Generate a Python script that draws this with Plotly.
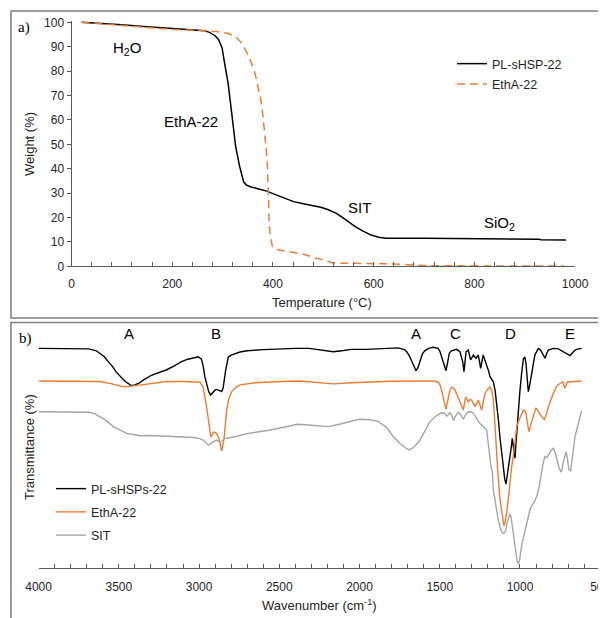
import plotly.graph_objects as go

W, H = 606, 618
PAGE_OFFSET = 8  # default page margin that the browser puts around the figure


def px(x):
    return (x - PAGE_OFFSET) / W


def py(y):
    return 1 - (y - PAGE_OFFSET) / H


# ---------------- TGA data (panel a) ----------------
tga_temp_pl = [20, 50, 100, 150, 200, 250, 265, 275, 285, 292, 299, 305, 311, 318, 326, 334, 338,
               342, 347, 355, 370, 388, 400, 420, 441, 470, 495, 510, 526, 545, 564, 580, 595, 610,
               625, 700, 808, 812, 928, 932, 982]
tga_wt_pl = [100, 99.7, 99, 98.2, 97.5, 97, 96.5, 95.8, 94.5, 93, 89.5, 82, 75, 63, 49, 40.8, 37,
             34.5, 33.4, 32.6, 31.8, 30.8, 29.8, 28.2, 26.5, 25.2, 24.2, 23.2, 21.7, 19, 16.2, 14.3,
             12.8, 11.9, 11.5, 11.5, 11.4, 11.2, 11.1, 10.9, 10.8]

tga_temp_eth = [20, 100, 150, 200, 257, 288, 310, 326, 338, 349, 357, 364.5, 370, 376, 380, 384,
                387, 389, 390.5, 391.4, 392, 394, 399, 410, 425, 441, 460, 472, 490, 505, 518, 535,
                549, 600, 625, 660, 702, 750, 850, 978]
tga_wt_eth = [100, 98.8, 98, 97.1, 96.6, 96.2, 95.5, 94.1, 91.5, 87.3, 83.5, 79, 74, 68.2, 62,
              54.5, 47, 40.8, 34, 27, 20, 13.6, 8, 6.8, 6.2, 5.6, 5.0, 4.2, 3.2, 2.2, 1.5, 1.3, 1.3,
              1.1, 1.0, 0.8, 0.3, 0.2, 0.15, 0.1]

tga_xticks = list(range(0, 1001, 40))
tga_xlabels = [str(v) if v % 200 == 0 else "" for v in tga_xticks]
tga_yticks = list(range(0, 101, 10))

# ---------------- FTIR data (panel b) ----------------
ftir_wn_pl = [4000, 3800, 3687, 3640, 3615, 3590, 3566, 3540, 3518, 3494, 3470, 3445, 3422, 3400,
              3374, 3350, 3326, 3300, 3277, 3240, 3205, 3160, 3109, 3070, 3037, 3005, 2985, 2974,
              2964, 2952, 2940, 2928, 2915, 2900, 2890, 2875, 2859, 2850, 2845, 2835, 2818, 2796,
              2745, 2700, 2600, 2500, 2400, 2314, 2250, 2200, 2163, 2100, 2050, 1955, 1850, 1760,
              1720, 1706, 1690, 1675, 1660, 1648, 1636, 1623, 1608, 1592, 1565, 1540, 1510, 1498,
              1485, 1478, 1461, 1450, 1441, 1428, 1416, 1395, 1374, 1363, 1357, 1349, 1342, 1336,
              1322, 1308, 1300, 1291, 1274, 1260, 1252, 1245, 1237, 1229, 1218, 1208, 1195, 1187,
              1175, 1166, 1155, 1145, 1135, 1125, 1115, 1105, 1095, 1087, 1080, 1072, 1062, 1055,
              1048, 1044, 1040, 1034, 1031, 1026, 1020, 1010, 1000, 990, 979, 970, 962, 955, 948,
              940, 927, 915, 907, 886, 875, 865, 855, 844, 833, 823, 792, 760, 730, 710, 688, 675,
              657, 640, 616]
ftir_t_pl = [91.5, 91.5, 91.3, 90.5, 89.4, 88, 86, 84, 81.8, 80, 78.3, 77, 76, 76.3, 77, 78.2, 79.3,
             80.2, 80.8, 81.6, 82.5, 84, 86, 87, 87.6, 88, 87, 84, 79.7, 76, 73.5, 72.1, 73.2, 74.2,
             74.4, 74, 73.5, 75, 78, 82, 87.9, 88.8, 90, 90.5, 91, 91.3, 91.5, 91.5, 91, 90.3, 90.1,
             90.6, 91.1, 91.1, 91.5, 91.7, 91, 90.1, 88.5, 86, 83.5, 82.2, 83.5, 86.7, 89.2, 90.6,
             91.6, 92, 91.5, 90.1, 87.5, 85.3, 82.2, 86, 89.4, 90.5, 90.8, 91.1, 90.1, 88, 86, 81.8,
             86, 90.1, 90.8, 86.7, 87.5, 88.75, 87.4, 88.75, 86, 83.2, 86, 88.75, 86.5, 84.7, 82,
             79.7, 78.5, 77.6, 74, 68.6, 62, 54.7, 48, 42, 37, 35, 38, 42, 45, 50, 54, 52, 49, 46,
             45.7, 51, 57, 66, 74, 81, 87, 88, 85, 79, 73.5, 76, 81.1, 86, 88.75, 91.5, 91, 90.1,
             88.5, 87.4, 89.5, 90.8, 91.5, 91.3, 90.1, 89.5, 88.5, 89.5, 90.8, 91.2, 91.5]

ftir_wn_eth = [4000, 3800, 3650, 3617, 3550, 3500, 3472, 3420, 3368, 3300, 3202, 3100, 2994, 2975,
               2963, 2950, 2942, 2935, 2927, 2918, 2911, 2900, 2890, 2880, 2874, 2866, 2859, 2852,
               2845, 2836, 2828, 2815, 2797, 2770, 2745, 2650, 2578, 2450, 2371, 2250, 2163, 2050,
               1955, 1800, 1700, 1540, 1510, 1498, 1488, 1478, 1470, 1461, 1454, 1447, 1436, 1426,
               1415, 1405, 1390, 1374, 1363, 1353, 1345, 1338, 1330, 1322, 1311, 1301, 1290, 1280,
               1270, 1260, 1250, 1239, 1230, 1218, 1200, 1187, 1176, 1166, 1160, 1156, 1150, 1145,
               1135, 1125, 1114, 1106, 1100, 1093, 1083, 1072, 1062, 1052, 1042, 1030, 1020, 1010,
               1000, 990, 979, 970, 962, 953, 944, 935, 923, 910, 900, 890, 879, 865, 848, 836, 823,
               808, 792, 770, 750, 734, 728, 722, 714, 705, 680, 616]
ftir_t_eth = [77.9, 77.9, 77.8, 77.7, 76.8, 76, 75.5, 75.8, 76.2, 77, 77.7, 77.7, 77.4, 75.5, 71.6,
              66, 61.9, 58, 54.5, 55.5, 56.6, 56.5, 56, 54.5, 53.5, 51, 48.7, 51, 53.5, 60, 65.9,
              70.5, 73.5, 75.3, 76.3, 77.2, 77.5, 77.8, 77.9, 77.3, 76.7, 77.2, 77.5, 77.8, 77.9,
              77.9, 77.5, 76.25, 74, 71.4, 68.5, 66.1, 68.5, 71.4, 74.3, 75.3, 75, 74.2, 72, 69.3,
              67.5, 65.8, 69, 71.25, 70.3, 69.3, 70.2, 70, 68.5, 67.2, 68.5, 70, 68, 65.8, 69, 72.8,
              74.5, 75.4, 74, 70, 64, 58.9, 52, 45, 36.7, 29, 22.8, 19, 17.5, 19, 22.8, 29, 36.7,
              42, 46.4, 53, 58.9, 61, 62.4, 64, 65.8, 65.5, 64.4, 60, 56.8, 59, 62.4, 64.8, 66.5,
              65.8, 64.4, 63, 62, 64, 67.2, 70, 72.8, 76, 77, 77.6, 76.5, 74.9, 76, 77.4, 77.6,
              77.9]

ftir_wn_sit = [4000, 3800, 3687, 3650, 3615, 3580, 3534, 3490, 3451, 3400, 3368, 3300, 3200, 3100,
               3036, 3000, 2974, 2955, 2942, 2930, 2911, 2890, 2870, 2855, 2838, 2800, 2700, 2555,
               2450, 2386, 2300, 2250, 2194, 2120, 2050, 2001, 1940, 1880, 1873, 1830, 1789, 1750,
               1712, 1690, 1670, 1645, 1623, 1590, 1561, 1520, 1488, 1470, 1457, 1446, 1436, 1425,
               1415, 1400, 1384, 1370, 1353, 1338, 1322, 1305, 1291, 1275, 1260, 1245, 1229, 1215,
               1207, 1198, 1192, 1187, 1180, 1172, 1166, 1150, 1135, 1120, 1110, 1100, 1090, 1080,
               1070, 1062, 1055, 1045, 1035, 1025, 1017, 1010, 1003, 995, 985, 970, 958, 945, 935,
               927, 915, 896, 880, 865, 855, 844, 833, 823, 808, 792, 780, 765, 755, 745, 740, 730,
               720, 713, 705, 695, 684, 675, 668, 657, 645, 630, 616]
ftir_t_sit = [65.1, 65.1, 64.9, 64.3, 63, 61.5, 58.9, 57.3, 56.1, 55.5, 55.1, 55.2, 55, 54.7, 54.4,
              54, 53.3, 52, 51.25, 51.6, 52.6, 53.3, 52.4, 53, 54, 54.4, 56, 57.5, 59, 59.9, 59.5,
              59.2, 58.9, 60, 61.3, 62, 61.8, 61, 60.5, 58.5, 54.7, 52, 49.9, 49.2, 50, 51.5, 53.3,
              57.5, 61, 63.5, 64.7, 64.5, 63.3, 64, 64.7, 63.5, 61.4, 63.5, 65, 64, 62, 64, 65.1,
              65, 64.5, 63, 61, 60, 58.9, 58, 57.5, 52, 48, 45.7, 42, 40, 32.5, 26, 20, 16, 14.6,
              14.4, 15.5, 19, 21.5, 22.5, 21, 16, 10, 5, 2.5, 2, 3, 7, 11, 15, 18.6, 22, 25, 25.8,
              27, 29.7, 34, 40, 44, 46.4, 46, 47, 49, 49.9, 48, 44, 41.5, 40.2, 40.5, 44, 47.5,
              48.5, 46, 41, 40.5, 45, 50, 54.7, 58, 62, 65.5]

ftir_xticks = list(range(500, 4001, 100))
ftir_xlabels = [str(v) if v % 500 == 0 else "" for v in ftir_xticks]

peak_labels = ["A", "B", "A", "C", "D", "E"]
peak_positions = [3434, 2892, 1651, 1403, 1057, 688]

# ---------------- styling ----------------
SANS = "Liberation Sans, Arial, sans-serif"
SERIF = "Liberation Serif, Times New Roman, serif"
AXIS_COLOR = "#595959"
TEXT_COLOR = "#262626"
BLACK = "#000000"
ORANGE = "#ED7D31"
GRAY = "#A5A5A5"

fig = go.Figure()

fig.add_trace(go.Scatter(x=tga_temp_pl, y=tga_wt_pl, mode="lines", name="PL-sHSP-22",
                         line=dict(color=BLACK, width=1.5), xaxis="x", yaxis="y",
                         legend="legend", legendgroup="a1"))
fig.add_trace(go.Scatter(x=tga_temp_eth, y=tga_wt_eth, mode="lines", name="EthA-22",
                         line=dict(color=ORANGE, width=1.5, dash="8px,5px"), xaxis="x", yaxis="y",
                         legend="legend", legendgroup="a2"))

fig.add_trace(go.Scatter(x=ftir_wn_pl, y=ftir_t_pl, mode="lines", name="PL-sHSPs-22",
                         line=dict(color=BLACK, width=1.4), xaxis="x2", yaxis="y2",
                         legend="legend2", legendgroup="b1"))
fig.add_trace(go.Scatter(x=ftir_wn_eth, y=ftir_t_eth, mode="lines", name="EthA-22",
                         line=dict(color=ORANGE, width=1.4), xaxis="x2", yaxis="y2",
                         legend="legend2", legendgroup="b2"))
fig.add_trace(go.Scatter(x=ftir_wn_sit, y=ftir_t_sit, mode="lines", name="SIT",
                         line=dict(color=GRAY, width=1.4), xaxis="x2", yaxis="y2",
                         legend="legend2", legendgroup="b3"))


def label(text, x, y, xref="paper", yref="paper", size=15, family=SANS, color=BLACK, angle=0):
    return dict(text=text, x=x, y=y, xref=xref, yref=yref, showarrow=False,
                xanchor="center", yanchor="middle", textangle=angle,
                font=dict(family=family, size=size, color=color))


annotations = [
    # panel a
    label("a)", px(24), py(27), family=SERIF),
    label("H<sub>2</sub>O", 110, 89.3, "x", "y"),
    label("EthA-22", 238, 59.3, "x", "y"),
    label("SIT", 571, 24.2, "x", "y"),
    label("SiO<sub>2</sub>", 849.5, 17.6, "x", "y"),
    label("Temperature (°C)", px(322), py(302), size=13, color=TEXT_COLOR),
    label("Weight (%)", px(29), py(144), size=13, color=TEXT_COLOR, angle=-90),
    # panel b
    label("b)", px(25), py(338), family=SERIF),
    label("Wavenumber (cm<sup>-1</sup>)", px(319.4), py(605), size=13, color=TEXT_COLOR),
    label("Transmittance (%)", px(29), py(447), size=13, color=TEXT_COLOR, angle=-90),
]
for lab, pos in zip(peak_labels, peak_positions):
    annotations.append(label(lab, pos, py(333), "x2", "paper"))

shapes = [
    dict(type="rect", xref="paper", yref="paper", x0=px(11), x1=px(640), y0=py(318), y1=py(11),
         line=dict(color="#7F7F7F", width=1.5)),
    dict(type="rect", xref="paper", yref="paper", x0=px(11), x1=px(640), y0=py(660),
         y1=py(322.5), line=dict(color="#7F7F7F", width=1.5)),
]

common_axis = dict(showline=True, linecolor=AXIS_COLOR, linewidth=1, showgrid=False,
                   zeroline=False, tickcolor=AXIS_COLOR, tickwidth=1, automargin=False,
                   tickfont=dict(family=SANS, size=12, color=TEXT_COLOR))

fig.update_layout(
    template="none",
    width=W, height=H,
    margin=dict(l=0, r=0, t=0, b=0, pad=0, autoexpand=False),
    paper_bgcolor="white", plot_bgcolor="white",
    font=dict(family=SANS, color=TEXT_COLOR),
    xaxis=dict(domain=[px(71.5), px(575.1)], range=[0, 1000], anchor="y",
               tickmode="array", tickvals=tga_xticks, ticktext=tga_xlabels,
               ticks="inside", ticklen=4, ticklabelstandoff=6, **common_axis),
    yaxis=dict(domain=[py(266.3), py(21.1)], range=[0, 100.5], anchor="x",
               tickmode="array", tickvals=tga_yticks, ticks="outside", ticklen=4,
               **common_axis),
    xaxis2=dict(domain=[px(38.6), px(600.2)], range=[4000, 500], anchor="y2",
                tickmode="array", tickvals=ftir_xticks, ticktext=ftir_xlabels,
                ticks="inside", ticklen=4, ticklabelstandoff=8, **common_axis),
    yaxis2=dict(domain=[py(568), py(328)], range=[0, 100], anchor="x2", visible=False),
    legend=dict(x=px(452), y=py(49), xanchor="left", yanchor="top", bgcolor="rgba(0,0,0,0)",
                font=dict(family=SANS, size=12.5, color=TEXT_COLOR), traceorder="grouped",
                tracegroupgap=1),
    legend2=dict(x=px(51), y=py(474), xanchor="left", yanchor="top", bgcolor="rgba(0,0,0,0)",
                 font=dict(family=SANS, size=12.5, color=TEXT_COLOR), traceorder="grouped",
                 tracegroupgap=4),
    showlegend=True,
    annotations=annotations,
    shapes=shapes,
)

fig.write_html("out.html")
